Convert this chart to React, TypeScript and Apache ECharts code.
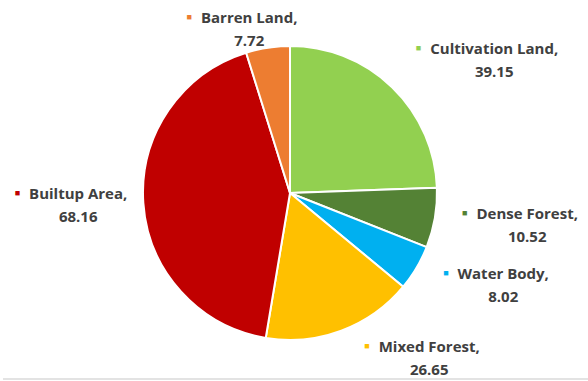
import React, { useEffect, useRef } from "react";
import * as echarts from "echarts";

const categories = ["Cultivation Land", "Dense Forest", "Water Body", "Mixed Forest", "Builtup Area", "Barren Land"];
const values = [39.15, 10.52, 8.02, 26.65, 68.16, 7.72];
const colors = ["#92D050", "#548235", "#00B0F0", "#FFC000", "#C00000", "#ED7D31"];
// label block centres (layout only)
const labelPos: [number, number][] = [
  [487, 59],
  [520, 224],
  [496, 284.5],
  [422, 357],
  [71, 204],
  [242, 28.5],
];

export default function App() {
  const ref = useRef<HTMLDivElement>(null);
  useEffect(() => {
    document.body.style.margin = "0";
    const chart = echarts.init(ref.current!, null, { renderer: "svg" });
    const data = categories.map((name, i) => ({
      name,
      value: values[i],
      itemStyle: { color: colors[i] },
    }));
    chart.setOption({
      animation: false,
      backgroundColor: "#ffffff",
      graphic: [
        {
          type: "rect",
          shape: { x: 3, y: 378, width: 585, height: 2 },
          style: { fill: "#e3e3e3" },
          silent: true,
        },
      ],
      series: [
        {
          type: "pie",
          center: [290, 193],
          radius: 147,
          startAngle: 90,
          clockwise: true,
          data,
          itemStyle: { borderColor: "#ffffff", borderWidth: 2 },
          labelLine: { show: false },
          label: {
            show: true,
            position: "outside",
            overflow: "none",
            formatter: (p: any) =>
              `{m${p.dataIndex}|■}{t|${p.name},}\n{s|■}{t|${p.value.toFixed(2)}}`,
            align: "center",
            lineHeight: 23,
            rich: {
              t: {
                fontFamily: "Open Sans",
                fontWeight: "bold",
                fontSize: 15,
                color: "#404040",
                lineHeight: 23,
              },
              s: { color: "rgba(0,0,0,0)", fontSize: 9, padding: [0, 9, 0, 0] },
              ...Object.fromEntries(
                colors.map((c, i) => [`m${i}`, { color: c, fontSize: 9, padding: [0, 9, 0, 0] }])
              ),
            },
          },
          labelLayout: (params: any) => {
            const p = labelPos[params.dataIndex];
            return { x: p[0], y: p[1], align: "center", verticalAlign: "middle" };
          },
        },
      ],
    });
    return () => chart.dispose();
  }, []);
  return <div ref={ref} style={{ width: 588, height: 381 }} />;
}
